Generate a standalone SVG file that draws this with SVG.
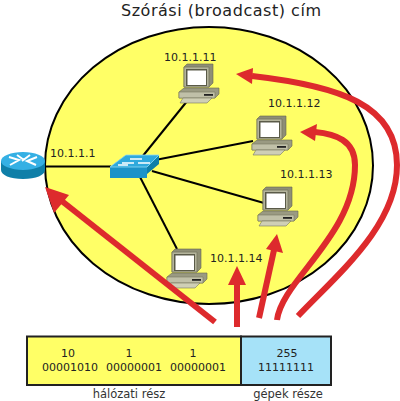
<svg xmlns="http://www.w3.org/2000/svg" width="400" height="401" viewBox="0 0 400 401">
<style>
text{font-family:"DejaVu Sans",sans-serif;fill:#222}
.l{font-size:11px}
.b{font-size:11px;text-anchor:middle}
.n{font-size:11.500px;text-anchor:middle;fill:#333}
.c line{stroke:#000;stroke-width:2}
.r{fill:none;stroke:#dd2a2d;stroke-width:6}
.h{fill:#dd2a2d}
</style>
<defs>
<g id="pc">
<path d="M5 3L8 0H34V19L30 23H5Z" fill="#8e8e76" stroke="#66664f" stroke-width=".6"/>
<path d="M5 3H30V23H5Z" fill="#b4b49c" stroke="#77775f" stroke-width=".8"/>
<rect x="7" y="5" width="21" height="17" fill="#5a5a48"/>
<rect x="8.500" y="6.500" width="18.500" height="14.500" fill="#fff"/>
<path d="M0 28L5 24H40V30L36 34H0Z" fill="#9a9a82" stroke="#66664f" stroke-width=".6"/>
<path d="M0 28H36V34H0Z" fill="#c0c0a8" stroke="#77775f" stroke-width=".6"/>
<rect x="25" y="30" width="9" height="1.800" fill="#222"/>
<path d="M4 34H33L28 39H1Z" fill="#cfcfb6" stroke="#77775f" stroke-width=".6"/>
</g>
</defs>
<text x="121" y="16" textLength="200" style="font-size:16px">Szórási (broadcast) cím</text>
<ellipse cx="209" cy="165.500" rx="164" ry="138.500" fill="#ffff66" stroke="#000" stroke-width="2"/>
<g id="connectors" class="c">
<line x1="44" y1="166.500" x2="111" y2="166.500"/>
<line x1="142" y1="157" x2="188" y2="100"/>
<line x1="150" y1="161" x2="253" y2="141"/>
<line x1="152" y1="171" x2="264" y2="203"/>
<line x1="140" y1="177" x2="177" y2="249"/>
</g>
<g id="router">
<path d="M1 161V170C1 175 10 179 23 179S45 175 45 170V161Z" fill="#0f7fa8"/>
<ellipse cx="23" cy="161" rx="22" ry="9" fill="#35b0e4"/>
<path d="M9 157L19 160L10 165M37 157L27 161L36 165M17 155L24 160M30 155L22 161" stroke="#fff" stroke-width="2" fill="none"/>
</g>
<text class="l" x="50" y="157">10.1.1.1</text>
<g id="switch">
<path d="M110 167L126 155H159V164L147 174V178H110Z" fill="#0f7fa8"/>
<path d="M110 167V178H147V167Z" fill="#1c93c8"/>
<path d="M110 167L126 155H159L147 167Z" fill="#2fa9dc" stroke="#8fdcf5" stroke-width=".8"/>
<path d="M122 163H134M138 163H150M118 165H128M130 159H142" stroke="#fff" stroke-width="1.500"/>
</g>
<g id="pc1"><use href="#pc" x="179" y="64"/><text class="l" x="164" y="61">10.1.1.11</text></g>
<g id="pc2"><use href="#pc" x="252" y="116"/><text class="l" x="268" y="107">10.1.1.12</text></g>
<g id="pc3"><use href="#pc" x="258" y="187"/><text class="l" x="280" y="178">10.1.1.13</text></g>
<g id="pc4"><use href="#pc" x="167" y="249"/><text class="l" x="210" y="262">10.1.1.14</text></g>
<g id="arrows">
<path class="r" d="M215 322L58 198"/>
<path class="h" d="M45 187L69 195L54 213Z"/>
<path class="r" d="M237 327V282"/>
<path class="h" d="M237 266L246 285H228Z"/>
<path class="r" d="M259 318L274 250"/>
<path class="h" d="M277 234L283 253L266 249Z"/>
<path class="r" d="M277 320C282 280 355 235 355 165C355 140 335 134 315 132"/>
<path class="h" d="M300 132L317 124L315 141Z"/>
<path class="r" d="M298 316C340 272 397 225 397 165C397 105 340 86 252 76"/>
<path class="h" d="M236 74L253 68L252 84Z"/>
</g>
<g id="address">
<rect x="27" y="336.500" width="214" height="48.500" fill="#ffff66" stroke="#222" stroke-width="2"/>
<rect x="241" y="336.500" width="90" height="48.500" fill="#a6e2f8" stroke="#222" stroke-width="2"/>
<text class="b" x="68" y="357">10</text><text class="b" x="70" y="371">00001010</text>
<text class="b" x="129" y="357">1</text><text class="b" x="134" y="371">00000001</text>
<text class="b" x="193" y="357">1</text><text class="b" x="198" y="371">00000001</text>
<text class="b" x="287" y="357">255</text><text class="b" x="286" y="371">11111111</text>
<text class="n" x="129" y="398">hálózati rész</text>
<text class="n" x="288" y="398">gépek része</text>
</g>
</svg>
